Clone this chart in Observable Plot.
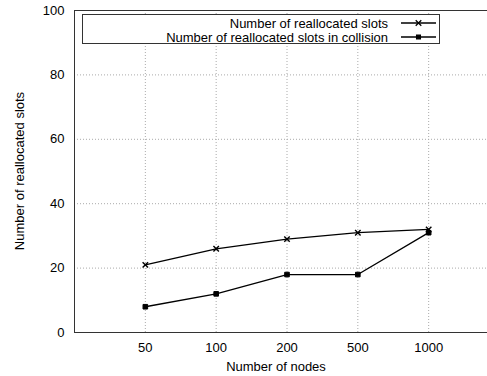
<!DOCTYPE html>
<html><head><meta charset="utf-8">
<script src="https://cdn.jsdelivr.net/npm/d3@7"></script>
<script src="https://cdn.jsdelivr.net/npm/@observablehq/plot@0.6"></script>
<style>
body{margin:0;background:#fff;font-family:"Liberation Sans",Arial,sans-serif;}
#wrap{position:relative;width:487px;height:376px;overflow:hidden;}
#legend{position:absolute;left:82px;top:14px;width:358px;height:30px;border:1px solid #333;background:#fff;box-sizing:border-box;font-size:13px;color:#000;}
.row{position:absolute;right:0;height:14px;display:flex;align-items:center;}
.row span{margin-right:7px;white-space:nowrap}
</style></head><body>
<div id="wrap"><div id="legend"></div></div>
<script>
const nodes = ["50","100","200","500","1000"];
const reallocated = [21, 26, 29, 31, 32];
const inCollision = [8, 12, 18, 18, 31];
const seriesNames = ["Number of reallocated slots", "Number of reallocated slots in collision"];
const yTicks = [0, 20, 40, 60, 80, 100];

const data = [];
nodes.forEach((n, i) => {
  data.push({pos: i + 1, label: n, v: reallocated[i], s: seriesNames[0]});
  data.push({pos: i + 1, label: n, v: inCollision[i], s: seriesNames[1]});
});
const xPos = nodes.map((_, i) => i + 1);
const s1 = data.filter(d => d.s === seriesNames[0]);
const s2 = data.filter(d => d.s === seriesNames[1]);

const chart = Plot.plot({
  width: 487, height: 376,
  marginTop: 10, marginLeft: 74, marginBottom: 44, marginRight: 0,
  style: {fontFamily: '"Liberation Sans", Arial, sans-serif', fontSize: "13px", color: "#000", background: "#fff"},
  x: {domain: [0, 6], range: [74, 499], label: null},
  y: {domain: [0, 100], range: [332, 10], label: null},
  marks: [
    Plot.gridX(xPos, {stroke: "#aaa", strokeOpacity: 1, strokeDasharray: "1,2"}),
    Plot.gridY(yTicks, {stroke: "#aaa", strokeOpacity: 1, strokeDasharray: "1,2"}),
    Plot.frame({stroke: "#333"}),
    Plot.axisX(xPos, {tickFormat: d => nodes[d - 1], tickSize: 0, tickPadding: 10, fontSize: 13}),
    Plot.axisY(yTicks, {tickSize: 0, tickPadding: 10, fontSize: 13}),
    Plot.line(s1, {x: "pos", y: "v", stroke: "#000", strokeWidth: 1.3}),
    Plot.line(s2, {x: "pos", y: "v", stroke: "#000", strokeWidth: 1.3}),
    Plot.dot(s1, {x: "pos", y: "v", symbol: "times", r: 2.6, stroke: "#000", strokeWidth: 1.4}),
    Plot.dot(s2, {x: "pos", y: "v", symbol: "square", r: 2.6, fill: "#000", stroke: "#000", strokeWidth: 1})
  ]
});
const wrap = document.getElementById("wrap");
wrap.insertBefore(chart, wrap.firstChild);
chart.style.position = "absolute"; chart.style.left = "0"; chart.style.top = "0";

// axis titles
const svg = d3.select(chart);
svg.append("text").attr("x", 276).attr("y", 371).attr("text-anchor", "middle")
  .style("font-size", "13px").text("Number of nodes");
svg.append("text").attr("transform", "translate(24,171) rotate(-90)").attr("text-anchor", "middle")
  .style("font-size", "13px").text("Number of reallocated slots");

// legend
const leg = d3.select("#legend");
seriesNames.forEach((name, i) => {
  const row = leg.append("div").attr("class", "row").style("top", (1 + i * 14) + "px");
  row.append("span").text(name);
  const s = row.append("svg").attr("width", 44).attr("height", 14);
  s.append("line").attr("x1", 6).attr("x2", 41).attr("y1", 7).attr("y2", 7).attr("stroke", "#000").attr("stroke-width", 1.3);
  const sym = d3.symbol(i === 0 ? d3.symbolTimes : d3.symbolSquare2, i === 0 ? 22 : 18);
  s.append("path").attr("d", sym()).attr("transform", "translate(23.5,7)")
    .attr("fill", i === 0 ? "none" : "#000").attr("stroke", "#000").attr("stroke-width", 1.3);
});
</script></body></html>
